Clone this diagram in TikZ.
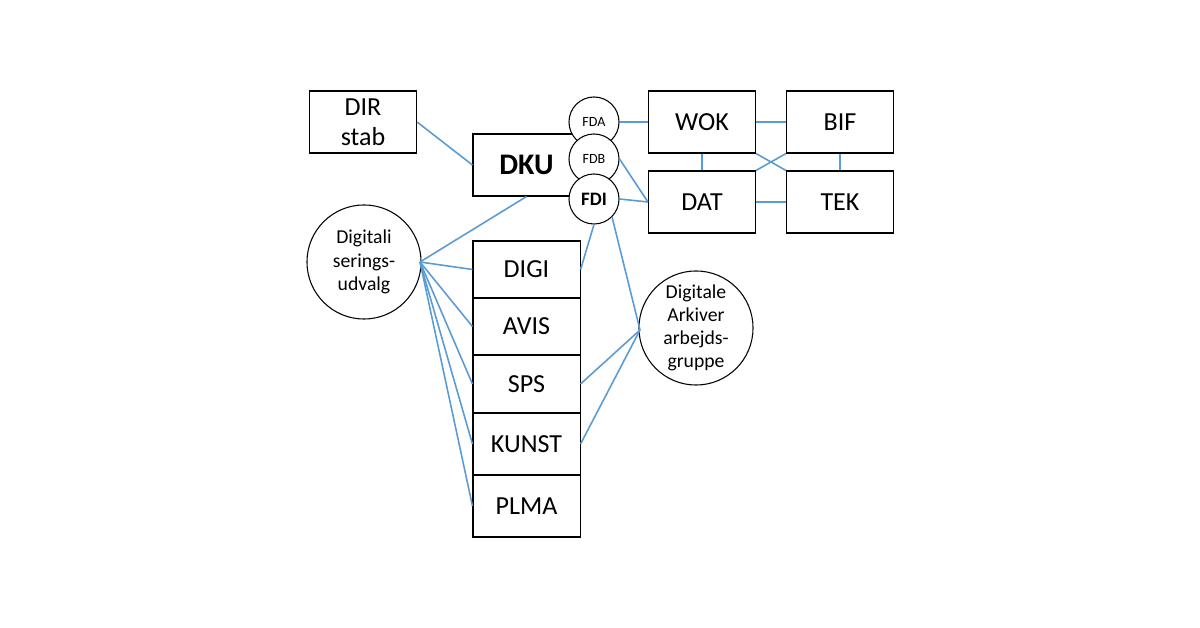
\documentclass[tikz,border=0pt]{standalone}
\usepackage{fontspec}
\setmainfont{Carlito}
\begin{document}
\begin{tikzpicture}[x=0.01cm,y=-0.01cm,
  bx/.style={draw,line width=0.3pt,minimum width=1.07cm,inner sep=0pt,font=\fontsize{7.4}{8.4}\selectfont,align=center},
  sc/.style={draw,fill=white,circle,line width=0.3pt,minimum size=0.5cm,inner sep=0pt,font=\fontsize{4}{5}\selectfont},
  bc/.style={draw,circle,line width=0.3pt,minimum size=1.14cm,inner sep=0pt,font=\fontsize{5.6}{6.6}\selectfont,align=center},
  ln/.style={draw=blue!35!cyan!60!black!0,line width=0.4pt},
  cn/.style={draw={rgb,255:red,91;green,155;blue,213},line width=0.45pt}]
\useasboundingbox (0,0) rectangle (1200,628);
\node[bx,minimum height=0.62cm] (dir) at (363,122) {DIR\\stab};
\node[bx,minimum height=0.62cm,font=\fontsize{8.5}{9}\selectfont\bfseries] (dku) at (526.5,165) {DKU};
\node[bx,minimum height=0.62cm] (wok) at (702,122) {WOK};
\node[bx,minimum height=0.62cm] (bif) at (840,122) {BIF};
\node[bx,minimum height=0.62cm] (dat) at (702,202) {DAT};
\node[bx,minimum height=0.62cm] (tek) at (840,202) {TEK};
\node[bx,minimum height=0.57cm] (digi) at (526.5,269.5) {DIGI};
\node[bx,minimum height=0.57cm] (avis) at (526.5,326.5) {AVIS};
\node[bx,minimum height=0.58cm] (sps) at (526.5,384) {SPS};
\node[bx,minimum height=0.62cm] (kunst) at (526.5,444) {KUNST};
\node[bx,minimum height=0.62cm] (plma) at (526.5,506) {PLMA};
\node[sc] (fda) at (594,122) {FDA};
\node[sc] (fdb) at (594,159) {FDB};
\node[sc,font=\fontsize{5.4}{6}\selectfont\bfseries] (fdi) at (594,199) {FDI};
\node[bc] (dig) at (364,262) {Digitali\\serings-\\udvalg};
\node[bc] (ark) at (696,328) {Digitale\\Arkiver\\arbejds-\\gruppe};
\coordinate (dp) at (420,262);
\coordinate (ap) at (640,330);
\draw[cn] (dir.east) -- (dku.west);
\draw[cn] (fda.east) -- (wok.west);
\draw[cn] (fdb.east) -- (dat.west);
\draw[cn] (fdi.east) -- (dat.west);
\draw[cn] (wok) -- (bif);
\draw[cn] (dat) -- (tek);
\draw[cn] (wok.south) -- (dat.north);
\draw[cn] (bif.south) -- (tek.north);
\draw[cn] (wok.south east) -- (tek.north west);
\draw[cn] (dat.north east) -- (bif.south west);
\draw[cn] (dp) -- (dku.south);
\draw[cn] (dp) -- (digi.west);
\draw[cn] (dp) -- (avis.west);
\draw[cn] (dp) -- (sps.west);
\draw[cn] (dp) -- (kunst.west);
\draw[cn] (dp) -- (plma.west);
\draw[cn] (fdi.south) -- (digi.east);
\draw[cn] (fdi.south east) -- (ap);
\draw[cn] (ap) -- (sps.east);
\draw[cn] (ap) -- (kunst.east);
\end{tikzpicture}
\end{document}
